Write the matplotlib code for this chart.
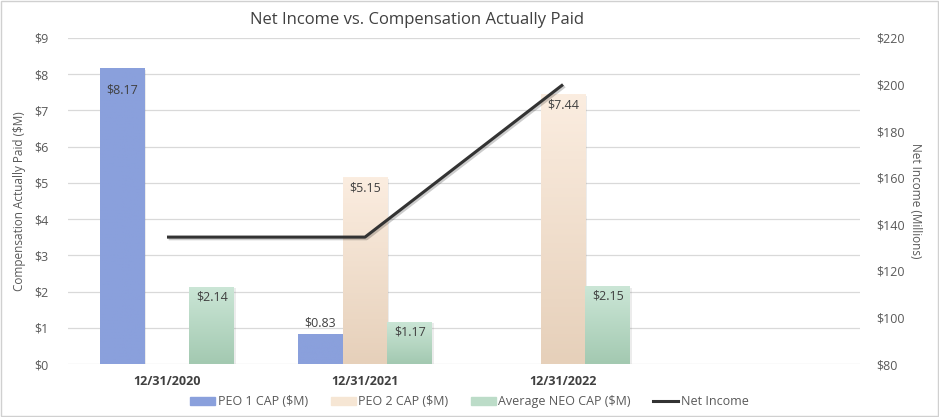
"""Net income vs. compensation actually paid, bars plus a net income line."""

import matplotlib.pyplot as plt
import matplotlib.patheffects as pe
import numpy as np
from matplotlib.colors import LinearSegmentedColormap
from matplotlib.patches import Patch, Rectangle
from matplotlib.lines import Line2D

plt.rcParams["font.family"] = ["Open Sans", "DejaVu Sans"]

CATEGORIES = ["12/31/2020", "12/31/2021", "12/31/2022", ""]
PEO1_CAP = [8.17, 0.83, None, None]
PEO2_CAP = [None, 5.15, 7.44, None]
NEO_CAP = [2.14, 1.17, 2.15, None]
NET_INCOME = [134.5, 134.5, 200.0]

LEFT_TICKS = list(range(0, 10))
RIGHT_TICKS = list(range(80, 221, 20))

BAR_W = 0.227
TEXT_GRAY = "#595959"
LABEL_GRAY = "#404040"

series = [
    ("PEO 1 CAP ($M)", PEO1_CAP, -BAR_W, ("#8aa0dc", "#8aa0dc"), "#8aa0dc"),
    ("PEO 2 CAP ($M)", PEO2_CAP, 0.0, ("#fbede0", "#e6d0ba"), "#f6e6d4"),
    ("Average NEO CAP ($M)", NEO_CAP, BAR_W, ("#cbe6d6", "#a3c9b1"), "#bcdcc8"),
]

fig = plt.figure(figsize=(9.39, 4.17), dpi=100)
ax = fig.add_axes([0.0724, 0.127, 0.8435, 0.782])
ax2 = ax.twinx()

ax.set_zorder(1)
ax2.set_zorder(2)
ax.patch.set_visible(False)

for y in LEFT_TICKS:
    ax.axhline(y, color="#d9d9d9", lw=0.9, zorder=0)

x = np.arange(len(CATEGORIES))
for name, vals, off, (c_top, c_bot), legend_color in series:
    cmap = LinearSegmentedColormap.from_list(name, [c_bot, c_top])
    for i, v in enumerate(vals):
        if v is None:
            continue
        bars = ax.bar(x[i] + off, v, width=BAR_W, color=legend_color, zorder=2,
                      edgecolor="none")
        b = bars[0]
        b.set_path_effects([pe.SimplePatchShadow(offset=(1.2, -1.2), alpha=0.15,
                                                 shadow_rgbFace="#808080"),
                            pe.Normal()])
        grad = np.linspace(0, 1, 100).reshape(-1, 1)
        im = ax.imshow(grad, cmap=cmap, origin="lower", aspect="auto",
                       extent=[b.get_x(), b.get_x() + b.get_width(), 0, v], zorder=3)
        im.set_clip_path(b)

        # data labels: inside end, except short bars
        if v < 1.0:
            ax.text(x[i] + off, v + 0.12, f"${v:.2f}", ha="center", va="bottom",
                    fontsize=9, color=LABEL_GRAY, zorder=5)
        else:
            drop = 0.62 if v > 8 else 0.28
            ax.text(x[i] + off, v - drop, f"${v:.2f}", ha="center", va="center",
                    fontsize=9, color=LABEL_GRAY, zorder=5)

ax.set_xlim(-0.5, 3.5)
ax.set_ylim(0, 9)
ax2.set_ylim(80, 220)

line_x = x[:len(NET_INCOME)]
ax2.plot(line_x, NET_INCOME, color="#333333", lw=2.2, zorder=5, solid_capstyle="butt",
         path_effects=[pe.SimpleLineShadow(offset=(1.2, -1.2), alpha=0.2), pe.Normal()])

ax.set_xticks(x)
ax.set_xticklabels(CATEGORIES, fontsize=9, fontweight="bold", color=LABEL_GRAY)
ax.set_yticks(LEFT_TICKS)
ax.set_yticklabels([f"${t}" for t in LEFT_TICKS], fontsize=9, color=TEXT_GRAY)
ax2.set_yticks(RIGHT_TICKS)
ax2.set_yticklabels([f"${t}" for t in RIGHT_TICKS], fontsize=9, color=TEXT_GRAY)

ax.tick_params(axis="x", length=0, pad=8)
ax.tick_params(axis="y", length=0, pad=14)
ax2.tick_params(axis="y", length=0, pad=12)
for a in (ax, ax2):
    for s in a.spines.values():
        s.set_visible(False)

ax.set_ylabel("Compensation Actually Paid ($M)", fontsize=8.5, color=TEXT_GRAY, labelpad=6)
ax2.set_ylabel("Net Income (Millions)", fontsize=8.5, color=TEXT_GRAY, rotation=270,
               labelpad=12)

fig.text(0.444, 0.951, "Net Income vs. Compensation Actually Paid", ha="center",
         va="center", fontsize=12, color=LABEL_GRAY)

handles = [Patch(color=c, label=n) for n, _, _, _, c in series]
handles.append(Line2D([0], [0], color="#333333", lw=2.2, label="Net Income"))
fig.legend(handles=handles, loc="center", bbox_to_anchor=(0.5, 0.036), ncol=4,
           frameon=False, fontsize=9, labelcolor=TEXT_GRAY, handlelength=2.0,
           handleheight=0.5, handletextpad=0.2, columnspacing=1.8)

fig.patches.append(Rectangle((0.001, 0.002), 0.998, 0.996, transform=fig.transFigure,
                             fill=False, edgecolor="#d0d0d0", lw=1.0))

fig.savefig("out.png", dpi=100)
